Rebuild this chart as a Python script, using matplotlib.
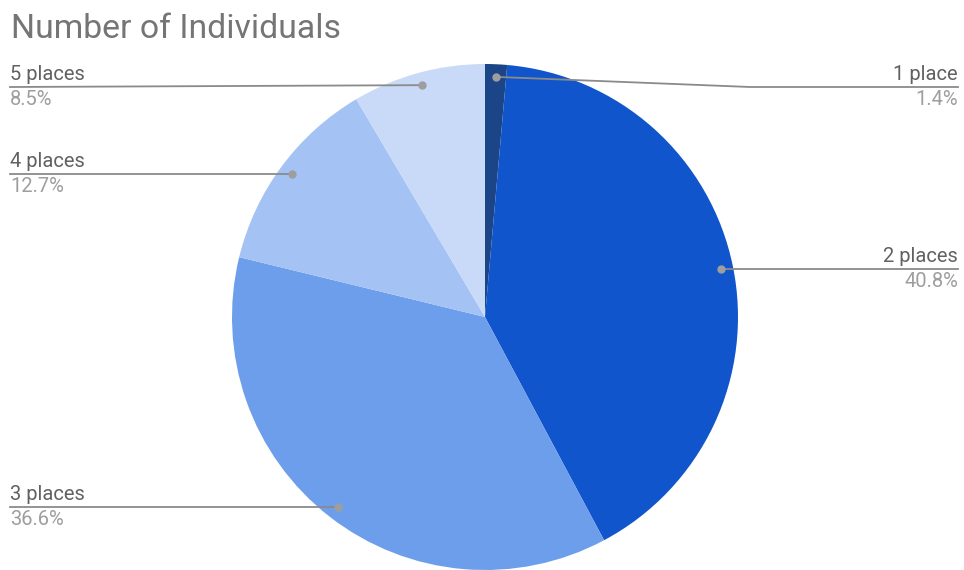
import numpy as np
import matplotlib
matplotlib.use("Agg")
import matplotlib.pyplot as plt

# data
labels = ["1 place", "2 places", "3 places", "4 places", "5 places"]
shares = [1.4, 40.8, 36.6, 12.7, 8.5]
colors = ["#1c4587", "#1155cc", "#6d9eeb", "#a4c2f4", "#c9daf8"]

W, H = 964, 570
fig = plt.figure(figsize=(W / 100, H / 100), dpi=100)
ax = fig.add_axes([0, 0, 1, 1])

cx, cy, R = 485, H - 317, 253
wedges, _ = ax.pie(shares, colors=colors, startangle=90, counterclock=False,
                   center=(cx, cy), radius=R, frame=True,
                   wedgeprops=dict(linewidth=0))
ax.set_xlim(0, W)
ax.set_ylim(0, H)
ax.set_aspect("auto")
ax.axis("off")

name_col = "#616161"
pct_col = "#9e9e9e"
line_col = "#8a8a8a"

for w, lab, val in zip(wedges, labels, shares):
    mid = np.deg2rad((w.theta1 + w.theta2) / 2)
    px = cx + 0.95 * R * np.cos(mid)
    py = cy + 0.95 * R * np.sin(mid)
    ly = min(py, H - 87)
    if px > cx or lab == "1 place":
        if ly != py:
            xs, ys = [px, 750, 958], [py, ly, ly]
        else:
            xs, ys = [px, 958], [py, ly]
        tx, ha = 958, "right"
    else:
        xs, ys = [px, 10], [py, ly]
        tx, ha = 10, "left"
    ax.plot(xs, ys, color=line_col, lw=1.3, zorder=3)
    ax.plot(px, py, "o", color="#9e9e9e", ms=5, zorder=4)
    ax.text(tx, ly + 7, lab, ha=ha, va="baseline", fontsize=14.5,
            family="Roboto", color=name_col)
    ax.text(tx, ly - 18, f"{val}%", ha=ha, va="baseline", fontsize=14.5,
            family="Roboto", color=pct_col)

fig.text(11 / W, 1 - 38 / H, "Number of Individuals", ha="left", va="baseline",
         fontsize=24.3, family="Roboto", color="#757575")

fig.savefig("out.png", dpi=100, facecolor="white")
